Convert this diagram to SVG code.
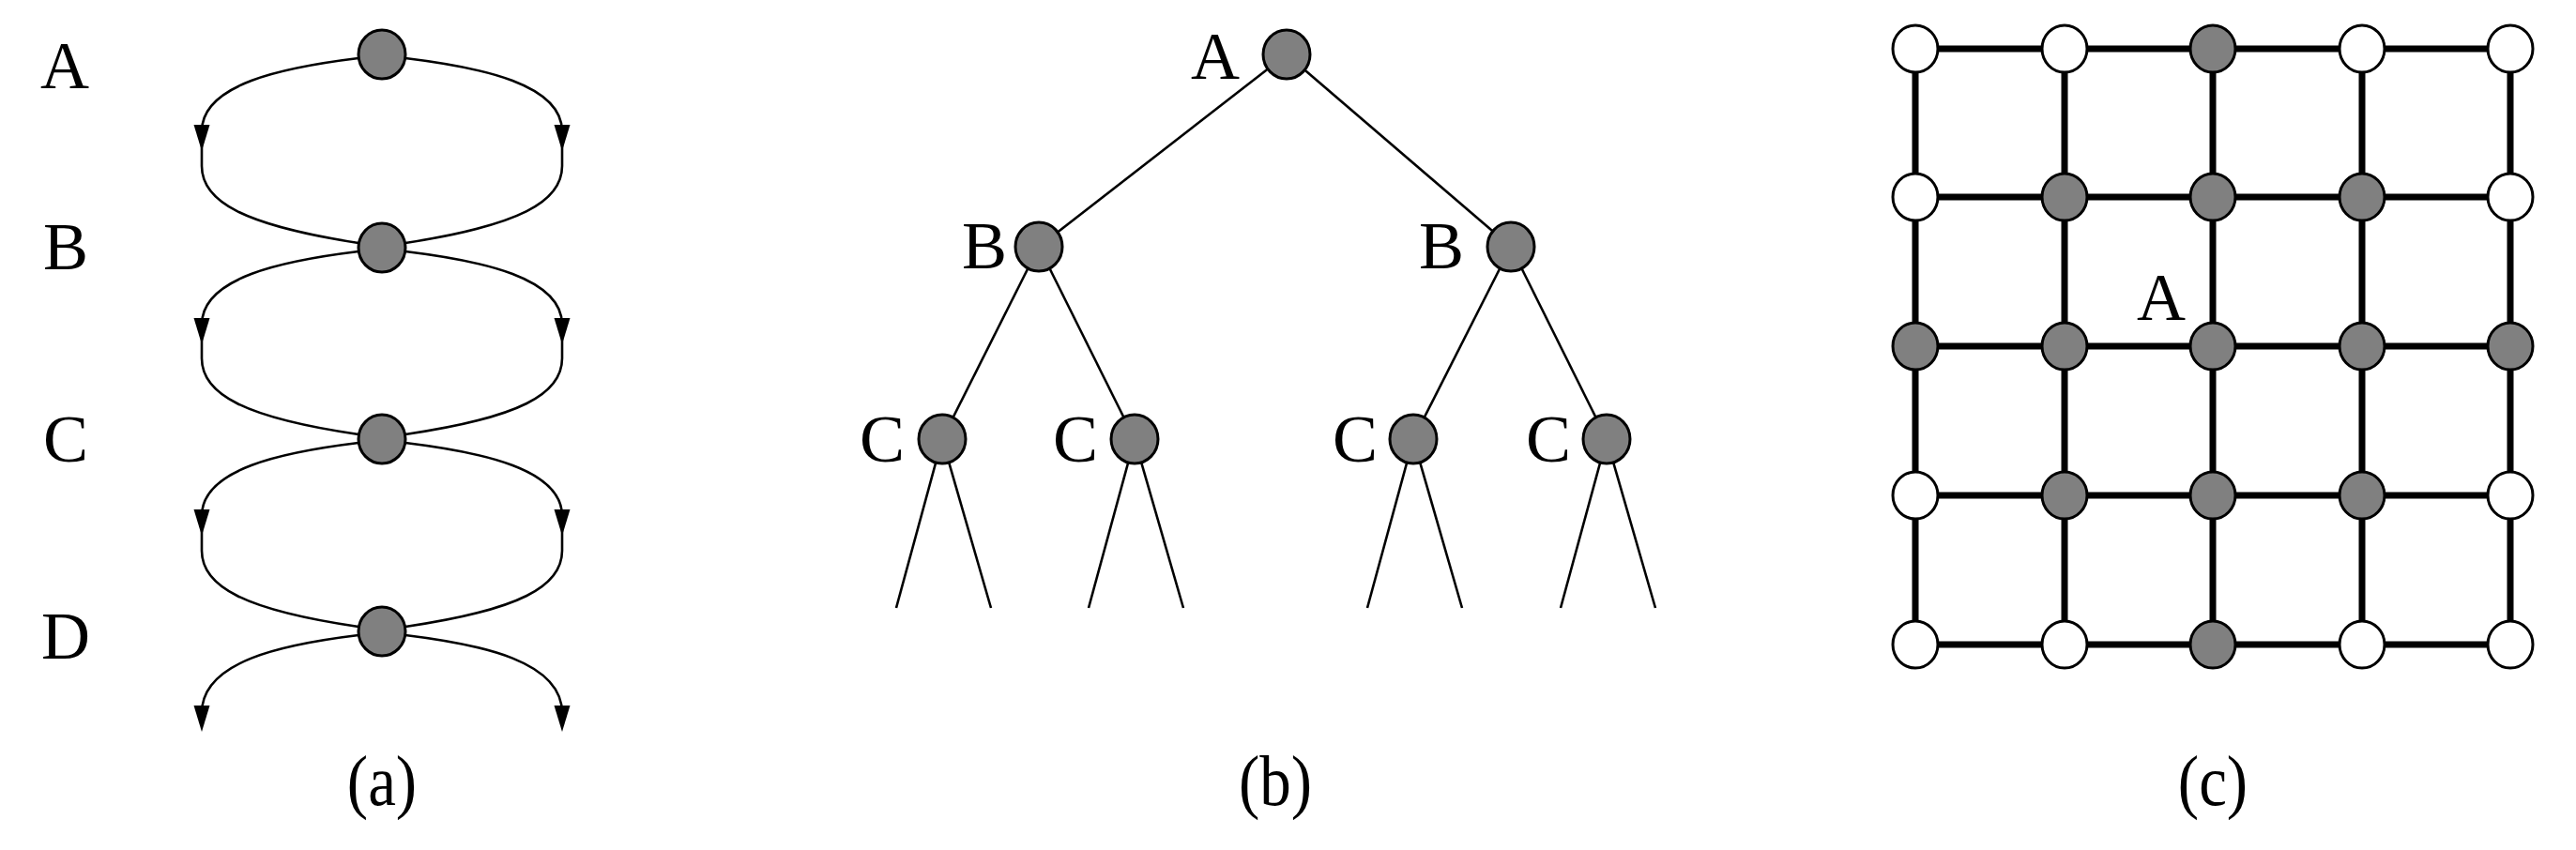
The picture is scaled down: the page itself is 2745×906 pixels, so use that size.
<svg xmlns="http://www.w3.org/2000/svg" width="2745" height="906" viewBox="0 0 2745 906">
<style>
.lbl{font-family:"Liberation Serif","Times New Roman",serif;font-size:72px;fill:#000;text-anchor:middle}
.cap{font-family:"Liberation Serif","Times New Roman",serif;font-size:67px;fill:#000;text-anchor:middle}
.n{fill:#808080;stroke:#000;stroke-width:3}
.w{fill:#fff;stroke:#000;stroke-width:3}
.ca{fill:none;stroke:#000;stroke-width:2.6}
.tb{stroke:#000;stroke-width:2.6;fill:none}
.gr{stroke:#000;stroke-width:7;fill:none}
.ah{fill:#000}
</style>
<defs>
<polygon id="arr" class="ah" points="-8.5,0 8.5,0 0,28"/>
</defs>
<rect width="2745" height="906" fill="#fff"/>

<!-- Panel (a) connectors -->
<g id="connectors-a">
<path class="ca" d="M382 62 C300 72,215 90,215 140 L215 177 C215 215,260 240,382 259"/>
<path class="ca" d="M432 62 C514 72,599 90,599 140 L599 177 C599 215,554 240,432 259"/>
<path class="ca" d="M382 268 C300 278,215 296,215 346 L215 382 C215 420,260 445,382 463"/>
<path class="ca" d="M432 268 C514 278,599 296,599 346 L599 382 C599 420,554 445,432 463"/>
<path class="ca" d="M382 472 C300 482,215 500,215 550 L215 587 C215 625,260 650,382 668"/>
<path class="ca" d="M432 472 C514 482,599 500,599 550 L599 587 C599 625,554 650,432 668"/>
<path class="ca" d="M382 677 C300 687,215 705,215 760"/>
<path class="ca" d="M432 677 C514 687,599 705,599 760"/>
<use href="#arr" x="215" y="133"/>
<use href="#arr" x="599" y="133"/>
<use href="#arr" x="215" y="339"/>
<use href="#arr" x="599" y="339"/>
<use href="#arr" x="215" y="543"/>
<use href="#arr" x="599" y="543"/>
<use href="#arr" x="215" y="752"/>
<use href="#arr" x="599" y="752"/>
</g>
<g id="a-A"><ellipse class="n" cx="407" cy="58" rx="25" ry="26"/><text class="lbl" x="69" y="94">A</text></g>
<g id="a-B"><ellipse class="n" cx="407" cy="264" rx="25" ry="26"/><text class="lbl" x="70" y="287">B</text></g>
<g id="a-C"><ellipse class="n" cx="407" cy="468" rx="25" ry="26"/><text class="lbl" x="70" y="492">C</text></g>
<g id="a-D"><ellipse class="n" cx="407" cy="673" rx="25" ry="26"/><text class="lbl" x="70" y="702">D</text></g>
<text class="cap" transform="translate(407 858) scale(1 1.14)">(a)</text>

<!-- Panel (b) connectors -->
<g id="connectors-b">
<line class="tb" x1="1371" y1="58" x2="1107" y2="263"/>
<line class="tb" x1="1371" y1="58" x2="1610" y2="263"/>
<line class="tb" x1="1107" y1="263" x2="1004" y2="468"/>
<line class="tb" x1="1107" y1="263" x2="1209" y2="468"/>
<line class="tb" x1="1610" y1="263" x2="1506" y2="468"/>
<line class="tb" x1="1610" y1="263" x2="1712" y2="468"/>
<line class="tb" x1="1004" y1="468" x2="955" y2="648"/>
<line class="tb" x1="1004" y1="468" x2="1056" y2="648"/>
<line class="tb" x1="1209" y1="468" x2="1160" y2="648"/>
<line class="tb" x1="1209" y1="468" x2="1261" y2="648"/>
<line class="tb" x1="1506" y1="468" x2="1457" y2="648"/>
<line class="tb" x1="1506" y1="468" x2="1558" y2="648"/>
<line class="tb" x1="1712" y1="468" x2="1663" y2="648"/>
<line class="tb" x1="1712" y1="468" x2="1764" y2="648"/>
</g>
<g id="b-A"><ellipse class="n" cx="1371" cy="58" rx="25" ry="26"/><text class="lbl" x="1295" y="84">A</text></g>
<g id="b-B1"><ellipse class="n" cx="1107" cy="263" rx="25" ry="26"/><text class="lbl" x="1049" y="286">B</text></g>
<g id="b-B2"><ellipse class="n" cx="1610" cy="263" rx="25" ry="26"/><text class="lbl" x="1536" y="286">B</text></g>
<g id="b-C1"><ellipse class="n" cx="1004" cy="468" rx="25" ry="26"/><text class="lbl" x="940" y="492">C</text></g>
<g id="b-C2"><ellipse class="n" cx="1209" cy="468" rx="25" ry="26"/><text class="lbl" x="1146" y="492">C</text></g>
<g id="b-C3"><ellipse class="n" cx="1506" cy="468" rx="25" ry="26"/><text class="lbl" x="1444" y="492">C</text></g>
<g id="b-C4"><ellipse class="n" cx="1712" cy="468" rx="25" ry="26"/><text class="lbl" x="1650" y="492">C</text></g>
<text class="cap" transform="translate(1359 858) scale(1 1.14)">(b)</text>

<!-- Panel (c) connectors -->
<g id="connectors-c">
<line class="gr" x1="2041" y1="52" x2="2675" y2="52"/>
<line class="gr" x1="2041" y1="210" x2="2675" y2="210"/>
<line class="gr" x1="2041" y1="369" x2="2675" y2="369"/>
<line class="gr" x1="2041" y1="528" x2="2675" y2="528"/>
<line class="gr" x1="2041" y1="687" x2="2675" y2="687"/>
<line class="gr" x1="2041" y1="52" x2="2041" y2="687"/>
<line class="gr" x1="2200" y1="52" x2="2200" y2="687"/>
<line class="gr" x1="2358" y1="52" x2="2358" y2="687"/>
<line class="gr" x1="2517" y1="52" x2="2517" y2="687"/>
<line class="gr" x1="2675" y1="52" x2="2675" y2="687"/>
</g>
<g id="c-r0">
<ellipse id="c00" class="w" cx="2041" cy="52" rx="24" ry="25"/>
<ellipse id="c01" class="w" cx="2200" cy="52" rx="24" ry="25"/>
<ellipse id="c02" class="n" cx="2358" cy="52" rx="24" ry="25"/>
<ellipse id="c03" class="w" cx="2517" cy="52" rx="24" ry="25"/>
<ellipse id="c04" class="w" cx="2675" cy="52" rx="24" ry="25"/>
</g>
<g id="c-r1">
<ellipse id="c10" class="w" cx="2041" cy="210" rx="24" ry="25"/>
<ellipse id="c11" class="n" cx="2200" cy="210" rx="24" ry="25"/>
<ellipse id="c12" class="n" cx="2358" cy="210" rx="24" ry="25"/>
<ellipse id="c13" class="n" cx="2517" cy="210" rx="24" ry="25"/>
<ellipse id="c14" class="w" cx="2675" cy="210" rx="24" ry="25"/>
</g>
<g id="c-r2">
<ellipse id="c20" class="n" cx="2041" cy="369" rx="24" ry="25"/>
<ellipse id="c21" class="n" cx="2200" cy="369" rx="24" ry="25"/>
<ellipse id="c22" class="n" cx="2358" cy="369" rx="24" ry="25"/>
<ellipse id="c23" class="n" cx="2517" cy="369" rx="24" ry="25"/>
<ellipse id="c24" class="n" cx="2675" cy="369" rx="24" ry="25"/>
</g>
<g id="c-r3">
<ellipse id="c30" class="w" cx="2041" cy="528" rx="24" ry="25"/>
<ellipse id="c31" class="n" cx="2200" cy="528" rx="24" ry="25"/>
<ellipse id="c32" class="n" cx="2358" cy="528" rx="24" ry="25"/>
<ellipse id="c33" class="n" cx="2517" cy="528" rx="24" ry="25"/>
<ellipse id="c34" class="w" cx="2675" cy="528" rx="24" ry="25"/>
</g>
<g id="c-r4">
<ellipse id="c40" class="w" cx="2041" cy="687" rx="24" ry="25"/>
<ellipse id="c41" class="w" cx="2200" cy="687" rx="24" ry="25"/>
<ellipse id="c42" class="n" cx="2358" cy="687" rx="24" ry="25"/>
<ellipse id="c43" class="w" cx="2517" cy="687" rx="24" ry="25"/>
<ellipse id="c44" class="w" cx="2675" cy="687" rx="24" ry="25"/>
</g>
<g id="c-label"><text class="lbl" x="2303" y="341">A</text></g>
<text class="cap" transform="translate(2358 858) scale(1 1.14)">(c)</text>
</svg>
